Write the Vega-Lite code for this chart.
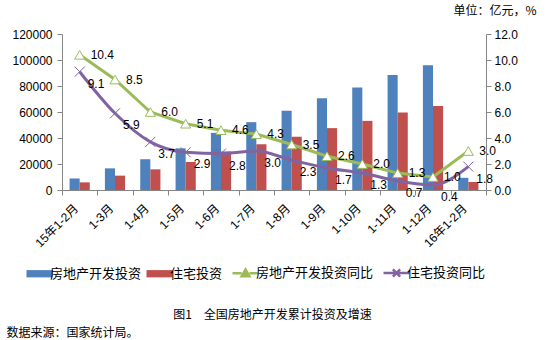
{
  "$schema": "https://vega.github.io/schema/vega-lite/v6.json",
  "width": 424,
  "height": 156,
  "autosize": "none",
  "padding": {"left": 62, "top": 34, "right": 60, "bottom": 150},
  "background": "white",
  "config": {
    "view": {"stroke": null},
    "axis": {
      "grid": false,
      "domainColor": "#868686",
      "tickColor": "#868686",
      "labelColor": "#000000",
      "labelFont": "Liberation Sans, Noto Sans CJK SC",
      "labelFontSize": 12,
      "titleFont": "Noto Sans CJK SC",
      "titleFontWeight": "normal",
      "titleColor": "#000000",
      "tickSize": 5
    }
  },
  "data": {
    "values": [
      {"cat": "15年1-2月", "房地产开发投资": 8853, "住宅投资": 5880, "房地产开发投资同比": 10.4, "住宅投资同比": 9.1},
      {"cat": "1-3月", "房地产开发投资": 16643, "住宅投资": 11048, "房地产开发投资同比": 8.5, "住宅投资同比": 5.9},
      {"cat": "1-4月", "房地产开发投资": 23669, "住宅投资": 15890, "房地产开发投资同比": 6.0, "住宅投资同比": 3.7},
      {"cat": "1-5月", "房地产开发投资": 32046, "住宅投资": 21572, "房地产开发投资同比": 5.1, "住宅投资同比": 2.9},
      {"cat": "1-6月", "房地产开发投资": 43955, "住宅投资": 29647, "房地产开发投资同比": 4.6, "住宅投资同比": 2.8},
      {"cat": "1-7月", "房地产开发投资": 52177, "住宅投资": 35261, "房地产开发投资同比": 4.3, "住宅投资同比": 3.0},
      {"cat": "1-8月", "房地产开发投资": 60993, "住宅投资": 40994, "房地产开发投资同比": 3.5, "住宅投资同比": 2.3},
      {"cat": "1-9月", "房地产开发投资": 70535, "住宅投资": 47587, "房地产开发投资同比": 2.6, "住宅投资同比": 1.7},
      {"cat": "1-10月", "房地产开发投资": 78801, "住宅投资": 53179, "房地产开发投资同比": 2.0, "住宅投资同比": 1.3},
      {"cat": "1-11月", "房地产开发投资": 88454, "住宅投资": 59618, "房地产开发投资同比": 1.3, "住宅投资同比": 0.7},
      {"cat": "1-12月", "房地产开发投资": 95979, "住宅投资": 64595, "房地产开发投资同比": 1.0, "住宅投资同比": 0.4},
      {"cat": "16年1-2月", "房地产开发投资": 9364, "住宅投资": 6189, "房地产开发投资同比": 3.0, "住宅投资同比": 1.8}
    ]
  },
  "encoding": {
    "x": {
      "field": "cat",
      "type": "nominal",
      "sort": null,
      "scale": {"paddingInner": 0, "paddingOuter": 0},
      "axis": {
        "labelAngle": -45,
        "labelAlign": "right",
        "labelBaseline": "middle",
        "tickBand": "extent",
        "labelPadding": 11,
        "labelOffset": -4,
        "title": "图1　全国房地产开发累计投资及增速",
        "titleFontSize": 12,
        "titleX": 210,
        "titleY": 124,
        "titleAlign": "center",
        "titleBaseline": "middle",
        "titleAnchor": null
      }
    }
  },
  "layer": [
    {
      "transform": [{"fold": ["房地产开发投资", "住宅投资"], "as": ["series", "value"]}],
      "mark": {"type": "bar"},
      "encoding": {
        "xOffset": {
          "field": "series",
          "type": "nominal",
          "sort": ["房地产开发投资", "住宅投资"],
          "scale": {"paddingInner": 0, "paddingOuter": 0.75}
        },
        "y": {
          "field": "value",
          "type": "quantitative",
          "scale": {"domain": [0, 120000]},
          "axis": {
            "values": [0, 20000, 40000, 60000, 80000, 100000, 120000],
            "format": "d",
            "labelPadding": 5,
            "title": "数据来源：国家统计局。",
            "titleFontSize": 12,
            "titleAngle": 0,
            "titleX": -56,
            "titleY": 298,
            "titleAlign": "left",
            "titleBaseline": "middle"
          }
        },
        "color": {
          "field": "series",
          "type": "nominal",
          "scale": {
            "domain": ["房地产开发投资", "住宅投资", "房地产开发投资同比", "住宅投资同比"],
            "range": ["#4F81BD", "#C0504D", "#9BBB59", "#8064A2"]
          },
          "legend": {
            "orient": "none",
            "legendX": -29,
            "legendY": 232,
            "direction": "horizontal",
            "columns": 4,
            "title": null,
            "labelFont": "Noto Sans CJK SC",
            "labelFontSize": 13,
            "labelColor": "#000000",
            "symbolSize": 676,
            "labelOffset": 4,
            "columnPadding": 4,
            "labelLimit": 300,
            "encode": {
              "symbols": {
                "update": {
                  "shape": {"signal": "(datum.value === '房地产开发投资' || datum.value === '住宅投资') ? 'M-1,-0.28H1V0.28H-1Z' : (datum.value === '房地产开发投资同比' ? 'M-1,0H-0.3M0.3,0H1M-0.3,0.24L0,-0.28L0.3,0.24Z' : 'M-1,0H1M-0.28,-0.28L0.28,0.28M-0.28,0.28L0.28,-0.28')"},
                  "fill": {"signal": "datum.value === '房地产开发投资' ? '#4F81BD' : (datum.value === '住宅投资' ? '#C0504D' : (datum.value === '房地产开发投资同比' ? '#ffffff' : 'transparent'))"},
                  "stroke": {"signal": "datum.value === '房地产开发投资同比' ? '#9BBB59' : (datum.value === '住宅投资同比' ? '#8064A2' : 'transparent')"},
                  "strokeWidth": {"signal": "datum.value === '房地产开发投资同比' || datum.value === '住宅投资同比' ? 2.5 : 0"},
                  "opacity": {"value": 1}
                }
              }
            }
          }
        }
      }
    },
    {
      "transform": [{"fold": ["房地产开发投资同比", "住宅投资同比"], "as": ["series", "rate"]}],
      "encoding": {
        "y": {
          "field": "rate",
          "type": "quantitative",
          "scale": {"domain": [0, 12]},
          "axis": {
            "orient": "right",
            "values": [0, 2, 4, 6, 8, 10, 12],
            "format": ".1f",
            "labelPadding": 3,
            "title": "单位：亿元，%",
            "titleFontSize": 12,
            "titleAngle": 0,
            "titleX": -33,
            "titleY": -24,
            "titleAlign": "left",
            "titleBaseline": "middle"
          }
        }
      },
      "layer": [
        {
          "transform": [{"filter": "datum.series === '房地产开发投资同比'"}],
          "mark": {"type": "line", "strokeWidth": 3},
          "encoding": {
            "color": {
              "field": "series",
              "type": "nominal",
              "scale": {
                "domain": ["房地产开发投资", "住宅投资", "房地产开发投资同比", "住宅投资同比"],
                "range": ["#4F81BD", "#C0504D", "#9BBB59", "#8064A2"]
              }
            }
          }
        },
        {
          "transform": [{"filter": "datum.series === '住宅投资同比'"}],
          "mark": {"type": "line", "strokeWidth": 3, "interpolate": "monotone"},
          "encoding": {
            "color": {
              "field": "series",
              "type": "nominal",
              "scale": {
                "domain": ["房地产开发投资", "住宅投资", "房地产开发投资同比", "住宅投资同比"],
                "range": ["#4F81BD", "#C0504D", "#9BBB59", "#8064A2"]
              }
            }
          }
        },
        {
          "transform": [{"filter": "datum.series === '住宅投资同比'"}],
          "mark": {"type": "point", "shape": "M-1,-1L1,1M-1,1L1,-1", "size": 100, "filled": false, "stroke": "#8064A2", "strokeWidth": 1, "opacity": 1},
          "encoding": {}
        },
        {
          "transform": [{"filter": "datum.series === '房地产开发投资同比'"}],
          "mark": {"type": "point", "shape": "triangle-up", "size": 100, "filled": true, "fill": "#ffffff", "stroke": "#9BBB59", "strokeWidth": 1, "opacity": 1},
          "encoding": {}
        },
        {
          "transform": [{"filter": "datum.series === '房地产开发投资同比'"}],
          "mark": {"type": "text", "align": "left", "baseline": "middle", "dx": 11, "dy": 0, "font": "Liberation Sans", "fontSize": 12, "color": "#000000"},
          "encoding": {"text": {"field": "rate", "type": "quantitative", "format": ".1f"}}
        },
        {
          "transform": [{"filter": "datum.series === '住宅投资同比'"}],
          "mark": {"type": "text", "align": "left", "baseline": "middle", "dx": 8, "dy": 12, "font": "Liberation Sans", "fontSize": 12, "color": "#000000"},
          "encoding": {"text": {"field": "rate", "type": "quantitative", "format": ".1f"}}
        }
      ]
    }
  ],
  "resolve": {"scale": {"y": "independent"}}
}
